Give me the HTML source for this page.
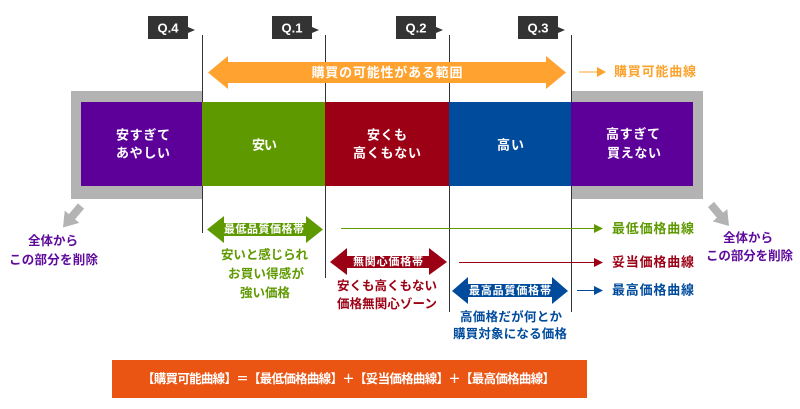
<!DOCTYPE html>
<html><head><meta charset="utf-8"><style>
html,body{margin:0;padding:0;background:#fff;}
svg{display:block;}
text{font-family:"Liberation Sans","Noto Sans CJK JP",sans-serif;font-weight:bold;}
</style></head><body>
<svg width="800" height="409" viewBox="0 0 800 409" xmlns="http://www.w3.org/2000/svg">
<rect width="800" height="409" fill="#fff"/>

<!-- gray frames -->
<rect x="71" y="91" width="131" height="108" fill="#b3b3b3"/>
<rect x="571" y="91" width="132" height="108" fill="#b3b3b3"/>

<!-- vertical lines -->
<g stroke="#333" stroke-width="1">
<line x1="202.5" y1="35" x2="202.5" y2="233"/>
<line x1="325.5" y1="35" x2="325.5" y2="278"/>
<line x1="449.5" y1="35" x2="449.5" y2="312"/>
<line x1="571.5" y1="35" x2="571.5" y2="312"/>
</g>

<!-- Q boxes -->
<g fill="#333">
<rect x="148" y="16" width="40" height="23"/><polygon points="188,27 195,30 188,33"/>
<rect x="272" y="16" width="40" height="23"/><polygon points="312,27 319,30 312,33"/>
<rect x="396" y="16" width="40" height="23"/><polygon points="436,27 443,30 436,33"/>
<rect x="518" y="16" width="40" height="23"/><polygon points="558,27 565,30 558,33"/>
</g>
<g fill="#fff" font-size="13" text-anchor="middle" dominant-baseline="central">
<text x="168" y="28">Q.4</text>
<text x="292" y="28">Q.1</text>
<text x="416" y="28">Q.2</text>
<text x="538" y="28">Q.3</text>
</g>

<!-- orange arrow -->
<polygon points="208,72.5 228,56 228,62 546,62 546,56 566,72.5 546,89 546,83 228,83 228,89" fill="#ffa22f"/>
<text x="387" y="72.5" font-size="13" fill="#fff" text-anchor="middle" dominant-baseline="central" textLength="151" lengthAdjust="spacing">購買の可能性がある範囲</text>

<!-- small orange arrow -->
<line x1="579" y1="72" x2="598" y2="72" stroke="#fba32e" stroke-width="1"/>
<polygon points="597,67 606,72 597,77" fill="#fba32e"/>
<text x="614" y="71.5" font-size="13" fill="#fba32e" dominant-baseline="central" textLength="82" lengthAdjust="spacing">購買可能曲線</text>

<!-- colored blocks -->
<rect x="81" y="102" width="121" height="84" fill="#5c0099"/>
<rect x="202" y="102" width="123" height="84" fill="#5e9900"/>
<rect x="325" y="102" width="124" height="84" fill="#9b0014"/>
<rect x="449" y="102" width="122" height="84" fill="#004b9c"/>
<rect x="571" y="102" width="122" height="84" fill="#5c0099"/>

<g fill="#fff" font-size="13" text-anchor="middle" dominant-baseline="central">
<text x="143" y="135" textLength="54" lengthAdjust="spacing">安すぎて</text>
<text x="143" y="153" textLength="54" lengthAdjust="spacing">あやしい</text>
<text x="264.5" y="145" textLength="25" lengthAdjust="spacing">安い</text>
<text x="387" y="135" textLength="40" lengthAdjust="spacing">安くも</text>
<text x="387" y="153" textLength="68" lengthAdjust="spacing">高くもない</text>
<text x="510.5" y="145" textLength="27" lengthAdjust="spacing">高い</text>
<text x="633" y="134" textLength="54" lengthAdjust="spacing">高すぎて</text>
<text x="634" y="153" textLength="54" lengthAdjust="spacing">買えない</text>
</g>

<!-- gray diagonal arrows -->
<g fill="#b3b3b3">
<polygon transform="translate(81,206) rotate(40)" points="-4,0 4,0 4,14 9.5,14 0,28 -9.5,14 -4,14"/>
<polygon transform="translate(711,204.5) rotate(-40)" points="-4,0 4,0 4,14 9.5,14 0,28 -9.5,14 -4,14"/>
</g>
<g fill="#5e0a9c" font-size="12.5" text-anchor="middle" dominant-baseline="central">
<text x="53" y="241" textLength="50" lengthAdjust="spacing">全体から</text>
<text x="53.5" y="260" textLength="89" lengthAdjust="spacing">この部分を削除</text>
<text x="748" y="238" textLength="50" lengthAdjust="spacing">全体から</text>
<text x="749.5" y="256" textLength="87" lengthAdjust="spacing">この部分を削除</text>
</g>

<!-- green -->
<polygon points="207,229.5 224,216 224,223 306,223 306,216 323,229.5 306,243 306,236 224,236 224,243" fill="#5e9900"/>
<text x="264" y="229.5" font-size="11" fill="#fff" text-anchor="middle" dominant-baseline="central" textLength="80" lengthAdjust="spacing">最低品質価格帯</text>
<g fill="#5f9a00" font-size="12.5" text-anchor="middle" dominant-baseline="central">
<text x="264.5" y="255" textLength="87" lengthAdjust="spacing">安いと感じられ</text>
<text x="266" y="274" textLength="76" lengthAdjust="spacing">お買い得感が</text>
<text x="265" y="293" textLength="50" lengthAdjust="spacing">強い価格</text>
</g>
<line x1="341" y1="228.5" x2="595" y2="228.5" stroke="#5e9900" stroke-width="1"/>
<polygon points="594,224 603,228.5 594,233" fill="#5e9900"/>
<text x="612" y="228.5" font-size="13" fill="#5e9900" dominant-baseline="central" textLength="82" lengthAdjust="spacing">最低価格曲線</text>

<!-- red -->
<polygon points="330,262 347,248 347,256 429,256 429,248 447,262 429,275 429,268 347,268 347,275" fill="#9b0014"/>
<text x="388" y="262" font-size="11" fill="#fff" text-anchor="middle" dominant-baseline="central" textLength="70" lengthAdjust="spacing">無関心価格帯</text>
<g fill="#9b0014" font-size="12.5" text-anchor="middle" dominant-baseline="central">
<text x="387" y="286" textLength="100" lengthAdjust="spacing">安くも高くもない</text>
<text x="387" y="304" textLength="100" lengthAdjust="spacing">価格無関心ゾーン</text>
</g>
<line x1="459" y1="262.5" x2="595" y2="262.5" stroke="#9b0014" stroke-width="1"/>
<polygon points="594,258 603,262.5 594,267" fill="#9b0014"/>
<text x="612" y="262" font-size="13" fill="#9b0014" dominant-baseline="central" textLength="82" lengthAdjust="spacing">妥当価格曲線</text>

<!-- blue -->
<polygon points="452,291 468,277 468,284 552,284 552,277 568,291 552,304 552,297 468,297 468,304" fill="#004b9c"/>
<text x="510" y="291" font-size="11" fill="#fff" text-anchor="middle" dominant-baseline="central" textLength="82" lengthAdjust="spacing">最高品質価格帯</text>
<g fill="#004b9c" font-size="12.5" text-anchor="middle" dominant-baseline="central">
<text x="511" y="317" textLength="102" lengthAdjust="spacing">高価格だが何とか</text>
<text x="510" y="334" textLength="114" lengthAdjust="spacing">購買対象になる価格</text>
</g>
<line x1="577" y1="290.5" x2="595" y2="290.5" stroke="#004b9c" stroke-width="1"/>
<polygon points="594,286 603,290.5 594,295" fill="#004b9c"/>
<text x="612" y="290" font-size="13" fill="#004b9c" dominant-baseline="central" textLength="82" lengthAdjust="spacing">最高価格曲線</text>

<!-- bottom bar -->
<rect x="112" y="360" width="475" height="38" fill="#ea5514"/>
<text x="348.5" y="379" font-size="12.5" fill="#fff" text-anchor="middle" dominant-baseline="central" textLength="413" lengthAdjust="spacing">【購買可能曲線】＝【最低価格曲線】＋【妥当価格曲線】＋【最高価格曲線】</text>
</svg>
</body></html>
